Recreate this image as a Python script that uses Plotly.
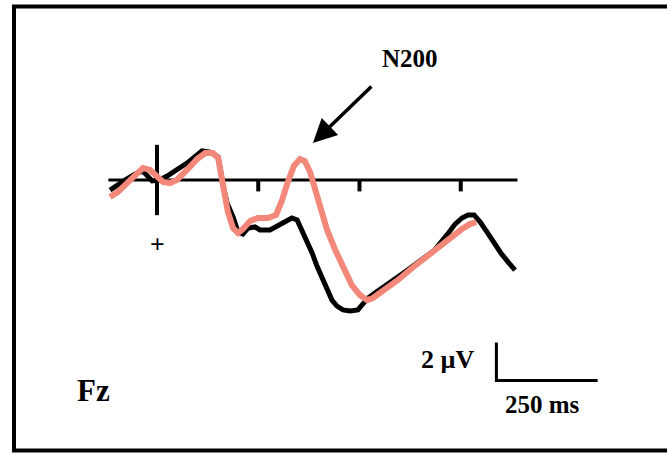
import plotly.graph_objects as go

# Grand-average ERP at Fz, two conditions (time in ms, amplitude in µV, negative up)
black_ms = [-116, -96, -79, -54, -35, -12, 7, 25, 49, 74, 99, 111, 131, 151, 163, 173, 188,
            200, 212, 225, 242, 254, 279, 299, 316, 333, 346, 358, 370, 383, 395, 407, 420,
            432, 444, 459, 477, 496, 506, 521, 538, 575, 612, 649, 686, 716, 736, 753, 768,
            783, 798, 815, 832, 849, 867, 884]
black_uv = [0.53, 0.21, 0.0, -0.32, -0.47, 0.05, 0.0, -0.21, -0.53, -0.89, -1.32, -1.53,
            -1.47, -1.21, 0.26, 1.21, 1.95, 2.74, 2.84, 2.53, 2.47, 2.63, 2.63, 2.42, 2.21,
            2.0, 2.1, 2.63, 3.16, 3.84, 4.53, 5.16, 5.79, 6.32, 6.63, 6.84, 6.89, 6.84, 6.58,
            6.21, 5.95, 5.42, 4.84, 4.26, 3.68, 2.89, 2.32, 2.0, 1.84, 1.84, 2.21, 2.74, 3.32,
            3.84, 4.32, 4.74]

pink_ms = [-116, -96, -74, -49, -35, -17, 0, 15, 32, 49, 74, 99, 119, 138, 151, 158, 165,
           175, 188, 200, 212, 230, 249, 274, 294, 309, 323, 338, 353, 365, 378, 390, 402,
           420, 440, 459, 481, 501, 519, 533, 563, 595, 630, 662, 699, 728, 753, 773, 788]
pink_uv = [0.89, 0.63, 0.16, -0.37, -0.63, -0.53, -0.16, 0.1, 0.16, 0.0, -0.53, -1.1, -1.42,
           -1.42, -1.16, -0.26, 0.79, 1.68, 2.53, 2.79, 2.58, 2.16, 2.0, 2.0, 1.84, 1.05, 0.1,
           -0.74, -1.1, -1.0, -0.42, 0.53, 1.42, 2.63, 3.68, 4.63, 5.53, 6.05, 6.32, 6.21,
           5.79, 5.26, 4.63, 4.1, 3.42, 2.95, 2.58, 2.32, 2.21]

baseline_ms = [-120, 890]
tick_ms = [250, 500, 750]
tick_len_uv = 0.6
onset_uv = [-1.85, 1.85]

scale_ms = 250
scale_uv = 2
scale_origin = (838, 10.55)  # corner of the calibration bar (ms, µV)

peak_label = "N200"
peak_ms, peak_uv = 385, -1.95
channel = "Fz"

BLACK = "#000000"
PINK = "#F2877A"
SERIF = "Liberation Serif"

fig = go.Figure()

# time axis baseline and onset marker
fig.add_trace(go.Scatter(x=baseline_ms, y=[0, 0], mode="lines",
                         line=dict(color=BLACK, width=3), hoverinfo="skip"))
fig.add_trace(go.Scatter(x=[0, 0], y=onset_uv, mode="lines",
                         line=dict(color=BLACK, width=4), hoverinfo="skip"))
for t in tick_ms:
    fig.add_trace(go.Scatter(x=[t, t], y=[0, tick_len_uv], mode="lines",
                             line=dict(color=BLACK, width=4), hoverinfo="skip"))

# waveforms
fig.add_trace(go.Scatter(x=black_ms, y=black_uv, mode="lines",
                         line=dict(color=BLACK, width=5)))
fig.add_trace(go.Scatter(x=pink_ms, y=pink_uv, mode="lines",
                         line=dict(color=PINK, width=6)))

# calibration bar
sx, sy = scale_origin
fig.add_trace(go.Scatter(x=[sx, sx, sx + scale_ms], y=[sy - scale_uv, sy, sy], mode="lines",
                         line=dict(color=BLACK, width=3), hoverinfo="skip"))

ann_font = dict(family=SERIF, color=BLACK)
fig.add_annotation(x=peak_ms, y=peak_uv, xref="x", yref="y", text="",
                   showarrow=True, arrowhead=2, arrowsize=1.35, arrowwidth=3.5,
                   arrowcolor=BLACK, ax=60, ay=-58, standoff=0)
fig.add_annotation(x=625, y=-6.42, text=f"<b>{peak_label}</b>", showarrow=False,
                   font=dict(size=25, **ann_font))
fig.add_annotation(x=0, y=3.4, text="<b>+</b>", showarrow=False, font=dict(size=26, **ann_font))
fig.add_annotation(x=718, y=9.47, text="<b>2 µV</b>", showarrow=False,
                   font=dict(size=26, **ann_font))
fig.add_annotation(x=953, y=11.79, text="<b>250 ms</b>", showarrow=False,
                   font=dict(size=25, **ann_font))
fig.add_annotation(x=-158, y=11.1, text=f"<b>{channel}</b>", showarrow=False,
                   font=dict(size=31, **ann_font))

# panel frame (right edge falls outside the page)
fig.add_shape(type="rect", xref="paper", yref="paper",
              x0=14 / 667, x1=1.05, y0=1 - 450.5 / 455, y1=1 - 6.5 / 455,
              line=dict(color=BLACK, width=4), layer="above")

fig.update_layout(
    width=667, height=455, margin=dict(l=0, r=0, t=0, b=0),
    paper_bgcolor="white", plot_bgcolor="white", showlegend=False,
    xaxis=dict(range=[-387.65, 1259.26], visible=False, fixedrange=True),
    yaxis=dict(range=[14.474, -9.474], visible=False, fixedrange=True),
)

fig.write_html("out.html")
